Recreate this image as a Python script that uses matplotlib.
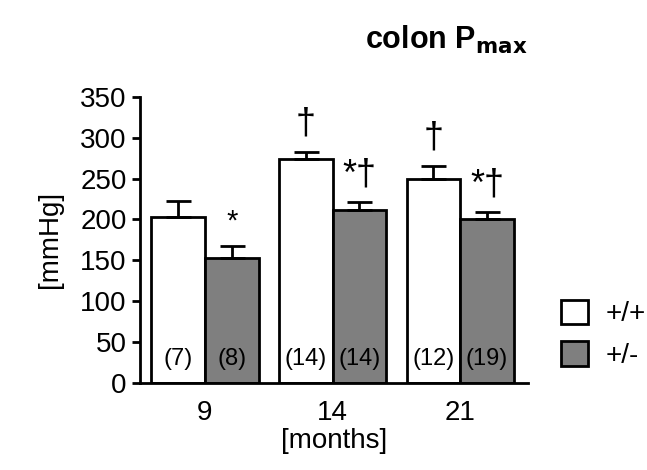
import numpy as np
import matplotlib.pyplot as plt

plt.rcParams['font.family'] = ['Liberation Sans', 'DejaVu Sans']

months = ['9', '14', '21']
wt_mean = [203, 274, 250]
wt_err = [19, 9, 16]
het_mean = [153, 211, 201]
het_err = [15, 10, 8]
wt_n = ['(7)', '(14)', '(12)']
het_n = ['(8)', '(14)', '(19)']
wt_marks = ['', '†', '†']
het_marks = ['*', '*†', '*†']

fig = plt.figure(figsize=(6.47, 4.70), dpi=100)
ax = fig.add_axes([0.216, 0.185, 0.6, 0.609])

x = np.arange(len(months))
w = 0.42
lw = 2.0
ekw = dict(ecolor='black', elinewidth=lw, capsize=9, capthick=lw)
ax.bar(x - w/2, wt_mean, w, color='white', edgecolor='black', linewidth=lw,
       yerr=[np.zeros(3), wt_err], error_kw=ekw, label='+/+', zorder=2)
ax.bar(x + w/2, het_mean, w, color='#7f7f7f', edgecolor='black', linewidth=lw,
       yerr=[np.zeros(3), het_err], error_kw=ekw, label='+/-', zorder=2)

for i in range(len(months)):
    ax.text(x[i] - w/2, 30, wt_n[i], ha='center', va='center', fontsize=17)
    ax.text(x[i] + w/2, 30, het_n[i], ha='center', va='center', fontsize=17)
    if wt_marks[i]:
        ax.text(x[i] - w/2, wt_mean[i] + wt_err[i] + 12, wt_marks[i],
                ha='center', va='bottom', fontsize=26)
    ax.text(x[i] + w/2, het_mean[i] + het_err[i] + 12, het_marks[i],
            ha='center', va='bottom', fontsize=26 if '†' in het_marks[i] else 21)

ax.set_xlim(-0.51, 2.53)
ax.set_ylim(0, 350)
ax.set_yticks(range(0, 351, 50))
ax.set_xticks(x)
ax.set_xticklabels(months)
ax.tick_params(axis='y', labelsize=20, width=lw, length=6)
ax.tick_params(axis='x', labelsize=20, length=0, pad=12)
for s in ['top', 'right']:
    ax.spines[s].set_visible(False)
ax.spines['left'].set_linewidth(lw)
ax.spines['bottom'].set_linewidth(lw)

ax.set_ylabel('[mmHg]', fontsize=20, labelpad=12)
ax.set_xlabel('[months]', fontsize=20, labelpad=2)

fig.text(0.69, 0.915, 'colon P$_{\\mathbf{max}}$', fontsize=22, fontweight='bold',
         ha='center', va='center')

ax.legend(loc='center left', bbox_to_anchor=(1.02, 0.17), frameon=False,
          fontsize=20, handlelength=1.0, handleheight=1.0, handletextpad=0.6,
          labelspacing=0.5)

fig.savefig('out.png', dpi=100)
